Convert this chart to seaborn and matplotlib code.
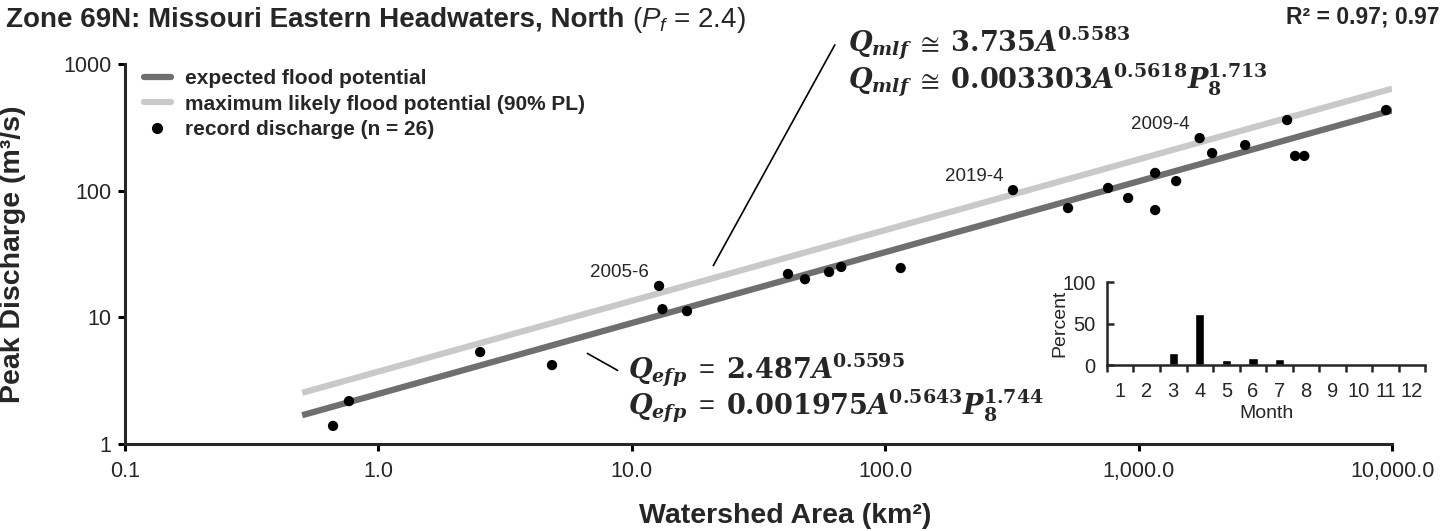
import numpy as np
import pandas as pd
import matplotlib
matplotlib.use("Agg")
import matplotlib.pyplot as plt
from matplotlib.lines import Line2D
from matplotlib.ticker import FixedLocator, FixedFormatter, NullLocator
import seaborn as sns

# ---- data -------------------------------------------------------------
area_km2 = [0.662, 0.765, 2.52, 4.84, 12.8, 13.2, 16.5, 41.3, 48.2, 60.0,
            67.0, 115.0, 319.0, 526.0, 757.0, 908.0, 1161.0, 1161.0, 1405.0,
            1739.0, 1948.0, 2630.0, 3850.0, 4140.0, 4500.0, 9470.0]
peak_q = [1.39, 2.18, 5.32, 4.2, 17.7, 11.6, 11.2, 22.0, 20.0, 22.8,
          25.0, 24.5, 101.0, 72.9, 105.0, 87.5, 138.0, 70.3, 119.0,
          260.0, 198.0, 229.0, 361.0, 188.0, 188.0, 433.0]

# labelled events: (area, peak, label)
events = [(12.8, 17.7, "2005-6"), (319.0, 101.0, "2019-4"), (1739.0, 260.0, "2009-4")]

# regional power-law fits  Q = c * A^b
efp_coef, efp_exp = 2.487, 0.5595
mlf_coef, mlf_exp = 3.735, 0.5583
fit_range = (0.5, 10000.0)

# month of record discharge (percent of records)
months = list(range(1, 13))
month_pct = [0, 0, 15, 62, 6, 8, 7, 0, 0, 0, 0, 0]

x_ticks = [0.1, 1, 10, 100, 1000, 10000]
x_tick_labels = ["0.1", "1.0", "10.0", "100.0", "1,000.0", "10,000.0"]
y_ticks = [1, 10, 100, 1000]
y_tick_labels = ["1", "10", "100", "1000"]

# ---- style ------------------------------------------------------------
sns.set_style("ticks")
plt.rcParams["font.family"] = ["Liberation Sans", "DejaVu Sans"]
plt.rcParams["mathtext.fontset"] = "custom"
plt.rcParams["mathtext.rm"] = "Liberation Sans"
plt.rcParams["mathtext.it"] = "Liberation Sans:italic"
plt.rcParams["mathtext.bf"] = "DejaVu Serif:bold"
plt.rcParams["mathtext.bfit"] = "DejaVu Serif:bold:italic"

DARK = "#6f6f6f"
LIGHT = "#c9c9c9"

fig = plt.figure(figsize=(14.47, 5.31), dpi=100)
ax = fig.add_axes([0.0864, 0.1638, 0.8757, 0.7157])

A = np.geomspace(*fit_range, 60)
fits = pd.DataFrame({
    "A": np.concatenate([A, A]),
    "Q": np.concatenate([efp_coef * A ** efp_exp, mlf_coef * A ** mlf_exp]),
    "curve": ["efp"] * len(A) + ["mlf"] * len(A),
})
sns.lineplot(data=fits, x="A", y="Q", hue="curve", hue_order=["mlf", "efp"],
             palette={"efp": DARK, "mlf": LIGHT}, linewidth=4.5,
             legend=False, ax=ax, solid_capstyle="butt")
sns.scatterplot(x=area_km2, y=peak_q, color="black", s=55, edgecolor="none",
                ax=ax, zorder=5, legend=False)

ax.set_xscale("log")
ax.set_yscale("log")
ax.set_xlim(0.1, 10000)
ax.set_ylim(1, 1000)
ax.xaxis.set_major_locator(FixedLocator(x_ticks))
ax.xaxis.set_major_formatter(FixedFormatter(x_tick_labels))
ax.yaxis.set_major_locator(FixedLocator(y_ticks))
ax.yaxis.set_major_formatter(FixedFormatter(y_tick_labels))
ax.xaxis.set_minor_locator(NullLocator())
ax.yaxis.set_minor_locator(NullLocator())
sns.despine(ax=ax)
for s in ("left", "bottom"):
    ax.spines[s].set_linewidth(2.2)
ax.tick_params(axis="both", which="major", length=5, width=2.2,
               labelsize=15.5, direction="out", color="black")
ax.tick_params(axis="x", pad=7)
ax.tick_params(axis="y", pad=5)

ax.set_xlabel("Watershed Area (km²)", fontsize=20.5, fontweight="bold")
ax.set_ylabel("Peak Discharge (m³/s)", fontsize=20.5, fontweight="bold")
ax.xaxis.set_label_coords(0.521, -0.155)
ax.yaxis.set_label_coords(-0.078, 0.5)

# event labels
for a, q, lab in events:
    ax.annotate(lab, (a, q), xytext=(-7, 10), textcoords="offset points",
                ha="right", va="center", fontsize=13.5)

# equations with leader lines
eq_mlf = (r"$\mathbfit{Q}_{\mathbfit{mlf}}\ \cong\ \mathbf{3.735}\mathbfit{A}^{\mathbf{0.5583}}$" "\n"
          r"$\mathbfit{Q}_{\mathbfit{mlf}}\ \cong\ \mathbf{0.003303}\mathbfit{A}^{\mathbf{0.5618}}"
          r"\mathbfit{P}_{\mathbf{8}}^{\mathbf{1.713}}$")
eq_efp = (r"$\mathbfit{Q}_{\mathbfit{efp}}\ =\ \mathbf{2.487}\mathbfit{A}^{\mathbf{0.5595}}$" "\n"
          r"$\mathbfit{Q}_{\mathbfit{efp}}\ =\ \mathbf{0.001975}\mathbfit{A}^{\mathbf{0.5643}}"
          r"\mathbfit{P}_{\mathbf{8}}^{\mathbf{1.744}}$")
ax.text(71.3, 1030, eq_mlf, fontsize=19.5, ha="left", va="center",
        linespacing=0.95, clip_on=False)
ax.text(9.66, 2.75, eq_efp, fontsize=19.5, ha="left", va="center",
        linespacing=0.95)
ax.annotate("", xy=(20.7, 24.5), xytext=(64, 1480),
            arrowprops=dict(arrowstyle="-", color="black", lw=1.2),
            annotation_clip=False)
ax.annotate("", xy=(6.53, 5.32), xytext=(8.98, 3.72),
            arrowprops=dict(arrowstyle="-", color="black", lw=1.2))

# legend
handles = [
    Line2D([], [], color=DARK, lw=4.5),
    Line2D([], [], color=LIGHT, lw=4.5),
    Line2D([], [], color="black", marker="o", ls="none", markersize=7),
]
labels = ["expected flood potential",
          "maximum likely flood potential (90% PL)",
          "record discharge (n = 26)"]
ax.legend(handles, labels, loc="upper left", bbox_to_anchor=(0.0, 1.035),
          frameon=False, prop={"weight": "bold", "size": 15},
          handlelength=1.3, handletextpad=0.7, labelspacing=0.3)

# title and fit quality
t1 = fig.text(0.004, 0.963, "Zone 69N: Missouri Eastern Headwaters, North ",
              fontsize=20, fontweight="bold", ha="left", va="center")
fig.canvas.draw()
bb = t1.get_window_extent()
fig.text(bb.x1 / fig.bbox.width, 0.963, r"($P_f$ = 2.4)", fontsize=20,
         ha="left", va="center")
fig.text(0.995, 0.968, "R² = 0.97; 0.97", fontsize=16.5, fontweight="bold",
         ha="right", va="center")

# inset: month of record discharge
ax_in = fig.add_axes([0.765, 0.3126, 0.22, 0.156])
mdf = pd.DataFrame({"Month": months, "Percent": month_pct})
sns.barplot(data=mdf, x="Month", y="Percent", order=months, color="black",
            width=0.35, ax=ax_in, saturation=1)
ax_in.set_xlim(-0.5, 11.5)
ax_in.set_ylim(0, 100)
ax_in.set_yticks([0, 50, 100])
ax_in.set_xticks(range(12))
ax_in.set_xticklabels([str(m) for m in months])
ax_in.set_xticks(np.arange(-0.5, 12, 1), minor=True)
sns.despine(ax=ax_in)
for s in ("left", "bottom"):
    ax_in.spines[s].set_linewidth(1.8)
ax_in.tick_params(axis="x", which="major", length=0, pad=12, labelsize=14.5)
ax_in.tick_params(axis="x", which="minor", length=5, width=1.8, direction="out")
ax_in.tick_params(axis="y", which="major", length=5, width=1.8,
                  direction="in", pad=8, labelsize=14.5)
ax_in.set_xlabel("Month", fontsize=14, labelpad=3)
ax_in.set_ylabel("Percent", fontsize=14)
ax_in.yaxis.set_label_coords(-0.12, 0.5)

fig.savefig("out.png", dpi=100)
